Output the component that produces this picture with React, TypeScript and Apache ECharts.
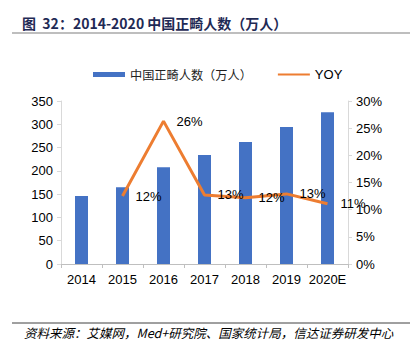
import React, { useEffect, useRef } from "react";
import * as echarts from "echarts";

const categories = ["2014", "2015", "2016", "2017", "2018", "2019", "2020E"];
const patients = [146, 165, 208, 234, 262, 294, 326];
const yoy = [null, 12.5, 26.3, 12.7, 12.2, 12.9, 11.1];
const yoyLabels = ["", "12%", "26%", "13%", "12%", "13%", "11%"];
const leftTicks = { min: 0, max: 350, interval: 50 };
const rightTicks = { min: 0, max: 30, interval: 5 };

const FONT = "'Liberation Sans', Arial, sans-serif";
const CJK = "'Noto Sans CJK SC', 'Liberation Sans', sans-serif";

export default function App() {
  const ref = useRef<HTMLDivElement>(null);
  useEffect(() => {
    document.body.style.margin = "0";
    const chart = echarts.init(ref.current!, null, { renderer: "svg" });
    chart.setOption({
      animation: false,
      backgroundColor: "#ffffff",
      textStyle: { fontFamily: FONT },
      graphic: [
        {
          type: "text",
          left: 22,
          top: 16,
          style: {
            text: "图  32：2014-2020 中国正畸人数（万人）",
            font: `bold 14px ${CJK}`,
            fill: "#1f2a55",
          },
        },
        {
          type: "line",
          shape: { x1: 12, y1: 33, x2: 410, y2: 33 },
          style: { stroke: "#7f7f7f", lineWidth: 1.2 },
        },
        {
          type: "line",
          shape: { x1: 12, y1: 323, x2: 410, y2: 323 },
          style: { stroke: "#404040", lineWidth: 1 },
        },
        {
          type: "text",
          left: 24,
          top: 326,
          style: {
            text: "资料来源：艾媒网，Med+研究院、国家统计局，信达证券研发中心",
            font: `italic 12.5px ${CJK}`,
            fill: "#000000",
          },
        },
      ],
      legend: {
        top: 63,
        left: 88,
        itemGap: 25,
        itemWidth: 32,
        itemHeight: 5,
        textStyle: { fontFamily: CJK, fontSize: 12.2, color: "#222" },
        data: [
          { name: "中国正畸人数（万人）", icon: "rect" },
          {
            name: "YOY",
            itemStyle: { opacity: 0 },
            textStyle: { fontFamily: FONT, fontSize: 13, color: "#000" },
          },
        ],
      },
      grid: { left: 61, right: 70, top: 101, bottom: 85 },
      xAxis: {
        type: "category",
        data: categories,
        axisLine: { lineStyle: { color: "#bfbfbf" } },
        axisTick: { show: true, length: 4, lineStyle: { color: "#bfbfbf" } },
        axisLabel: { color: "#000", fontSize: 13, margin: 9, interval: 0, fontFamily: FONT },
      },
      yAxis: [
        {
          type: "value",
          ...leftTicks,
          axisLine: { show: true, lineStyle: { color: "#d9d9d9" } },
          axisTick: { show: true, length: 4, lineStyle: { color: "#d9d9d9" } },
          splitLine: { show: false },
          axisLabel: { color: "#000", fontSize: 13, margin: 8, fontFamily: FONT },
        },
        {
          type: "value",
          ...rightTicks,
          position: "right",
          axisLine: { show: true, lineStyle: { color: "#d9d9d9" } },
          axisTick: { show: true, length: 4, lineStyle: { color: "#d9d9d9" } },
          splitLine: { show: false },
          axisLabel: { color: "#000", fontSize: 13, margin: 8, formatter: "{value}%", fontFamily: FONT },
        },
      ],
      series: [
        {
          name: "中国正畸人数（万人）",
          type: "bar",
          data: patients,
          barWidth: 13,
          itemStyle: { color: "#4472c4" },
        },
        {
          name: "YOY",
          type: "line",
          yAxisIndex: 1,
          data: yoy,
          symbol: "circle",
          symbolSize: 0,
          showSymbol: true,
          lineStyle: { color: "#ed7d31", width: 3 },
          itemStyle: { color: "#ed7d31" },
          label: {
            show: true,
            position: "right",
            distance: 13,
            color: "#000",
            fontSize: 13,
            fontFamily: FONT,
            formatter: (p: any) => yoyLabels[p.dataIndex],
          },
        },
      ],
    });
    return () => chart.dispose();
  }, []);
  return (
    <div
      ref={ref}
      style={{ width: 418, height: 349, position: "absolute", left: 0, top: 0 }}
    />
  );
}
